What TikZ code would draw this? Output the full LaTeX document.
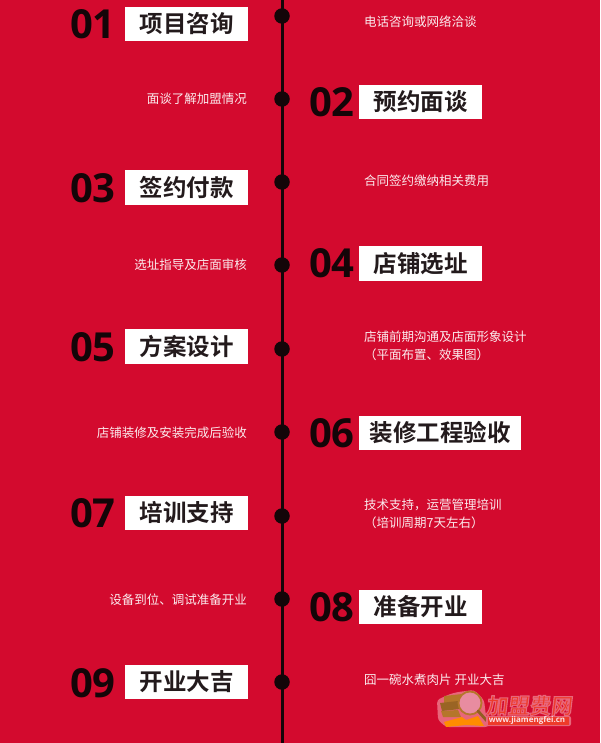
\documentclass[tikz,border=0pt]{standalone}
\usepackage{fontspec}
\setmainfont{Open Sans}
\newfontfamily\cjk{Noto Sans CJK SC}
\newfontfamily\cjkb{Noto Sans CJK SC Bold}
\definecolor{bgred}{HTML}{D30A2E}
\definecolor{ink}{HTML}{140508}
\definecolor{boxink}{HTML}{231A1C}
\definecolor{wmred}{HTML}{EE3B2A}
\definecolor{wmhalo}{HTML}{E8667A}
\definecolor{bookbrown}{HTML}{B5762A}
\definecolor{lenspink}{HTML}{E88CA0}
\tikzset{
  x=1pt,y=-1pt,
  dotn/.style={circle,fill=ink,inner sep=0pt,minimum size=15.5pt},
  numn/.style={font=\fontsize{40}{40}\selectfont\bfseries,text=ink,inner sep=0pt,anchor=east},
  titlen/.style={fill=white,text=boxink,inner sep=0pt,minimum height=34.5pt,font=\cjkb\fontsize{23.5}{24}\selectfont},
  descl/.style={text=white!92!bgred,inner sep=0pt,anchor=east,font=\cjk\fontsize{12.5}{18}\selectfont},
  descr/.style={text=white!92!bgred,inner sep=0pt,anchor=west,font=\cjk\fontsize{12.5}{18}\selectfont,align=left},
  wmtext/.style={inner sep=0pt,xslant=0.12,font=\cjkb\fontsize{21.5}{22}\selectfont},
}
\begin{document}
\begin{tikzpicture}
\useasboundingbox (0,0) rectangle (600,743);
\fill[bgred] (0,0) rectangle (600,743);
\coordinate (top) at (282,0);
\coordinate (bot) at (282,743);
\draw[ink,line width=3pt] (top) -- (bot);
\foreach \n/\y in {1/16,2/99,3/182,4/265,5/349,6/432,7/516,8/599,9/682}
  \node[dotn] (d\n) at (282,\y) {};
% left titles
\node[titlen,minimum width=123pt] (t1) at (186.5,24) {项目咨询};
\node[titlen,minimum width=123pt] (t3) at (186.5,187.5) {签约付款};
\node[titlen,minimum width=123pt] (t5) at (186.5,346.5) {方案设计};
\node[titlen,minimum width=123pt] (t7) at (186.5,513) {培训支持};
\node[titlen,minimum width=123pt] (t9) at (186.5,682) {开业大吉};
% right titles
\node[titlen,minimum width=123pt] (t2) at (420.5,102) {预约面谈};
\node[titlen,minimum width=123pt] (t4) at (420.5,263.5) {店铺选址};
\node[titlen,minimum width=162pt] (t6) at (440,433) {装修工程验收};
\node[titlen,minimum width=123pt] (t8) at (420.5,607) {准备开业};
% numbers
\node[numn] (n1) at (116,24) {01};
\node[numn] (n3) at (116,188) {03};
\node[numn] (n5) at (116,347) {05};
\node[numn] (n7) at (116,513) {07};
\node[numn] (n9) at (116,683) {09};
\node[numn] (n2) at (355,102) {02};
\node[numn] (n4) at (355,263) {04};
\node[numn] (n6) at (355,433) {06};
\node[numn] (n8) at (355,607) {08};
% descriptions
\node[descr] (r1) at (364,22) {电话咨询或网络洽谈};
\node[descl] (l2) at (247,99) {面谈了解加盟情况};
\node[descr] (r3) at (364,180.5) {合同签约缴纳相关费用};
\node[descl] (l4) at (247,265) {选址指导及店面审核};
\node[descr] (r5) at (364,345.5) {店铺前期沟通及店面形象设计\\（平面布置、效果图）};
\node[descl] (l6) at (247,432.5) {店铺装修及安装完成后验收};
\node[descr] (r7) at (364,513.5) {技术支持，运营管理培训\\（培训周期7天左右）};
\node[descl] (l8) at (247,599.5) {设备到位、调试准备开业};
\node[descr] (r9) at (364,680) {囧一碗水煮肉片 开业大吉};
% watermark logo
\fill[wmhalo,rounded corners=3pt] (437,700) -- (450,694) -- (458,692) -- (474,690) -- (484,700) -- (486,716) -- (492,722) -- (488,727) -- (446,727) -- (438,720) -- cycle;
\fill[bookbrown] (444,696) -- (462,694) -- (462,702) -- (444,704) -- cycle;
\fill[bookbrown!85!black] (440,703) -- (458,701) -- (460,709) -- (442,711) -- cycle;
\fill[bookbrown] (441,711) -- (458,710) -- (461,717) -- (443,717) -- cycle;
\fill[orange!90!yellow] (444,722) -- (462,717) -- (466,720) -- (478,716) -- (484,726) -- (466,725) -- (446,727) -- cycle;
\fill[lenspink] (470,703) circle (11.5);
\draw[bookbrown,line width=1.8pt] (470,703) circle (11.5);
\draw[bookbrown!80!black,line width=2.8pt,line cap=round] (478,711) -- (487,721);
% watermark lettering
\fill[wmhalo,rounded corners=2pt] (486,716) rectangle (571,726);
\fill[wmred] (488,717) rectangle (569,725);
\node[wmtext,text=wmred] (wm1) at (530,705.5) {\special{pdf:code 2 Tr 1.1 w 0.91 0.40 0.48 RG}加盟费网\special{pdf:code 0 Tr}};
\node[inner sep=0pt,text=white!80!wmhalo,font=\fontsize{8}{9}\selectfont\bfseries] (wm2) at (527,720.5) {www.jiamengfei.cn};
\end{tikzpicture}
\end{document}
